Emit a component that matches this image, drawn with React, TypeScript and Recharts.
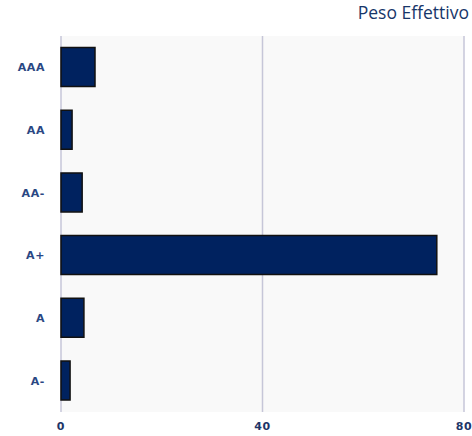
import { BarChart, Bar, XAxis, YAxis, CartesianGrid } from 'recharts';

const ratings = ['AAA', 'AA', 'AA-', 'A+', 'A', 'A-'];
const pesoEffettivo = [6.75, 2.2, 4.2, 74.6, 4.55, 1.8];
const xTicks = [0, 40, 80];

const data = ratings.map((rating, i) => ({ rating, peso: pesoEffettivo[i] }));

const tickStyle = {
  fill: '#2a4783',
  fontSize: 11,
  fontWeight: 'bold',
  letterSpacing: 0.6,
  fontFamily: 'DejaVu Sans',
};

export default function App() {
  return (
    <div style={{ position: 'fixed', left: 0, top: 0, width: 472, height: 436, background: '#fff' }}>
      <div
        style={{
          position: 'absolute',
          right: 3,
          top: 0,
          fontFamily: 'Open Sans',
          fontSize: 17.5,
          lineHeight: '24px',
          color: '#173669',
        }}
      >
        Peso Effettivo
      </div>
      <BarChart
        width={472}
        height={436}
        data={data}
        layout="vertical"
        margin={{ top: 36, right: 8, bottom: 0, left: 0 }}
        barCategoryGap="18.5%"
      >
        <CartesianGrid fill="#f9f9f9" stroke="#c6c6d8" strokeWidth={1.5} horizontal={false} />
        <XAxis
          type="number"
          domain={[0, 80]}
          ticks={xTicks}
          height={24}
          axisLine={false}
          tickLine={false}
          tickMargin={4}
          tick={{ ...tickStyle, fill: '#1e3568' }}
          interval={0}
        />
        <YAxis
          type="category"
          dataKey="rating"
          width={61}
          axisLine={false}
          tickLine={false}
          tickMargin={10}
          tick={tickStyle}
        />
        <Bar dataKey="peso" fill="#00225f" stroke="#111" strokeWidth={1.5} isAnimationActive={false} />
      </BarChart>
    </div>
  );
}
